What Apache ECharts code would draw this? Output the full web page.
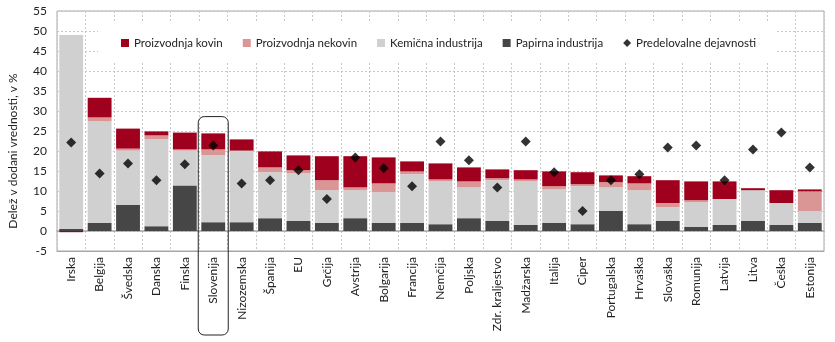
<!DOCTYPE html>
<html>
<head>
<meta charset="utf-8">
<script src="https://cdn.jsdelivr.net/npm/echarts@6/dist/echarts.min.js"></script>
<style>html,body{margin:0;padding:0;background:#fff}#c{width:835px;height:342px}</style>
</head>
<body>
<div id="c"></div>
<script>
const categories = ['Irska','Belgija','Švedska','Danska','Finska','Slovenija','Nizozemska','Španija','EU','Grčija','Avstrija','Bolgarija','Francija','Nemčija','Poljska','Zdr. kraljestvo','Madžarska','Italija','Ciper','Portugalska','Hrvaška','Slovaška','Romunija','Latvija','Litva','Češka','Estonija'];
const papirna = [0.5,2.0,6.5,1.2,11.4,2.2,2.2,3.2,2.5,2.0,3.2,2.0,2.0,1.7,3.2,2.5,1.5,2.0,1.7,5.0,1.7,2.5,1.0,1.5,2.5,1.5,2.0];
const kemicna = [48.5,25.4,13.6,21.7,8.7,16.7,17.9,11.5,11.9,8.2,7.0,7.7,12.2,10.7,7.7,10.2,10.9,8.4,9.5,5.9,8.5,3.5,6.2,6.5,7.7,5.5,3.0];
const nekovin = [0,1.0,0.5,1.0,0.3,1.5,0,1.2,0.8,2.5,0.7,2.2,0.7,0.5,1.5,0.5,0.5,0.8,0.5,1.3,1.7,1.0,0.5,0,0,0,4.9];
const kovin = [-0.3,4.9,5.0,1.0,4.2,4.0,2.8,4.0,3.7,6.0,7.8,6.5,2.5,4.0,3.5,2.2,2.3,3.7,3.0,1.7,1.8,5.7,4.7,4.4,0.5,3.2,0.5];
const predelovalne = [22.1,14.4,16.9,12.7,16.7,21.4,11.9,12.7,15.2,8.0,18.4,15.7,11.2,22.4,17.7,10.9,22.4,14.7,5.0,12.7,14.2,20.9,21.4,12.7,20.4,24.6,15.9];
const yTicks = {min:-5, max:55, interval:5};
const names = ['Proizvodnja kovin','Proizvodnja nekovin','Kemična industrija','Papirna industrija','Predelovalne dejavnosti'];

const FONT = 'Lato';
const chart = echarts.init(document.getElementById('c'), null, {renderer:'canvas'});
const barW = '84%';
chart.setOption({
  animation:false,
  textStyle:{fontFamily:FONT},
  grid:{left:57, right:11, top:11, bottom:91, show:true, borderColor:'#a6a6a6', borderWidth:1, containLabel:false},
  legend:{
    left:98, top:23, width:682, height:35,
    padding:[14,19,12,23],
    backgroundColor:'#ffffff',
    itemWidth:8, itemHeight:8, itemGap:20,
    textStyle:{fontFamily:FONT, fontSize:11.5, color:'#222'},
    data:[
      {name:names[0], icon:'rect'},
      {name:names[1], icon:'rect'},
      {name:names[2], icon:'rect'},
      {name:names[3], icon:'rect'},
      {name:names[4], icon:'diamond'}
    ]
  },
  xAxis:[{
    type:'category', data:categories, boundaryGap:true,
    axisLine:{onZero:false, lineStyle:{color:'#a6a6a6'}},
    axisTick:{show:false},
    axisLabel:{rotate:90, fontSize:12, color:'#222', interval:0, margin:6, fontFamily:FONT},
    splitLine:{show:true, interval:0, lineStyle:{color:'#c8c8c8', type:[2,2], width:1}}
  },{
    type:'category', data:categories, position:'bottom',
    axisLine:{onZero:true, lineStyle:{color:'#a6a6a6', width:1.5}},
    axisTick:{show:false}, axisLabel:{show:false}, splitLine:{show:false}
  }],
  yAxis:{
    type:'value', min:yTicks.min, max:yTicks.max, interval:yTicks.interval,
    axisLine:{show:false}, axisTick:{show:false},
    axisLabel:{fontSize:12, color:'#222', margin:10, fontFamily:FONT},
    splitLine:{show:true, lineStyle:{color:'#c8c8c8', type:[2,2], width:1}}
  },
  series:[
    {name:names[3], type:'bar', stack:'s', data:papirna, barWidth:barW, itemStyle:{color:'#464646'}},
    {name:names[2], type:'bar', stack:'s', data:kemicna, itemStyle:{color:'#d0d0d0'}},
    {name:names[1], type:'bar', stack:'s', data:nekovin, itemStyle:{color:'#d99694'}},
    {name:names[0], type:'bar', stack:'s', data:kovin, itemStyle:{color:'#9e001d'}},
    {name:names[4], type:'scatter', data:predelovalne, symbol:'diamond', symbolSize:10, itemStyle:{color:'#000'}, z:5}
  ]
});

// annotation box around Slovenija + y-axis title
const cx = chart.convertToPixel({xAxisIndex:0}, 'Slovenija');
const ty = chart.convertToPixel({yAxisIndex:0}, 28.6);
chart.setOption({
  graphic:[
    {type:'rect', shape:{x:cx-15, y:ty, width:30, height:335-ty, r:6}, style:{fill:'none', stroke:'#222', lineWidth:1}, z:10},
    {type:'text', x:13, y:151, rotation:Math.PI/2, style:{text:'Delež v dodani vrednosti, v %', fontFamily:FONT, fontSize:12, fill:'#222', align:'center', verticalAlign:'middle'}}
  ]
});
</script>
</body>
</html>
